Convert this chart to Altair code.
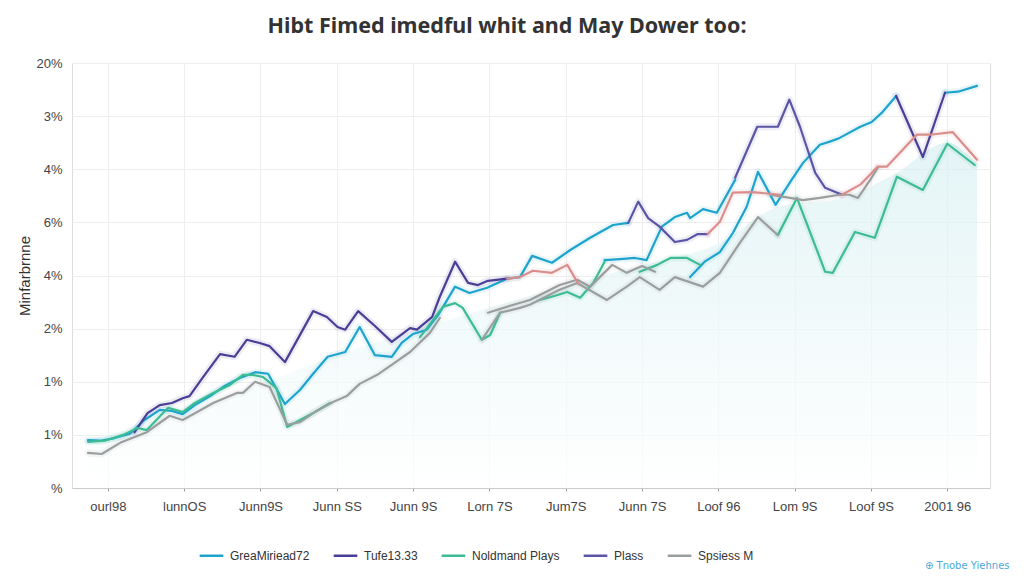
import altair as alt
import pandas as pd

TITLE = "Hibt Fimed imedful whit and May Dower too:"
Y_TITLE = "Minfarbrnne"
X_LABELS = ["ourl98", "lunnOS", "Junn9S", "Junn SS", "Junn 9S", "Lorn 7S",
            "Jum7S", "Junn 7S", "Loof 96", "Lom 9S", "Loof 9S", "2001 96"]
Y_LABELS = ["%", "1%", "1%", "2%", "4%", "6%", "4%", "3%", "20%"]
WATERMARK = "⊕ Tnobe Yiehnes"

SERIES = ["GreaMiriead72", "Tufe13.33", "Noldmand Plays", "Plass", "Spsiess M"]
COLORS = ["#1ea3cc", "#4a3f96", "#3dbb94", "#5b55a6", "#9a9e9e"]
EXTRA_COLOR = "#d98e8c"

# --- series values (t = period index, y = grid units) ---
cyan_1 = [(-0.26, 0.90), (-0.10, 0.89), (0.09, 0.94), (0.29, 1.02), (0.48, 1.28), (0.68, 1.47),
          (0.84, 1.45), (0.98, 1.39), (1.14, 1.56), (1.34, 1.73), (1.53, 1.92), (1.73, 2.07),
          (1.93, 2.18), (2.10, 2.15), (2.32, 1.58), (2.52, 1.85), (2.69, 2.15), (2.88, 2.47),
          (3.11, 2.56), (3.30, 3.03), (3.50, 2.50), (3.72, 2.47), (3.85, 2.73), (4.00, 2.90),
          (4.18, 2.98), (4.33, 3.26), (4.55, 3.79), (4.74, 3.67), (4.97, 3.77), (5.23, 3.94),
          (5.40, 3.97), (5.56, 4.37), (5.82, 4.24), (6.06, 4.48), (6.32, 4.71), (6.62, 4.95),
          (6.82, 4.99)]
cyan_2 = [(6.51, 4.29), (6.71, 4.31), (6.91, 4.33), (7.06, 4.29), (7.26, 4.92), (7.43, 5.10),
          (7.59, 5.18), (7.63, 5.08), (7.80, 5.25), (7.98, 5.18), (8.22, 5.80)]
cyan_3 = [(7.63, 3.97), (7.82, 4.26), (8.02, 4.44), (8.19, 4.80), (8.37, 5.29), (8.52, 5.95),
          (8.75, 5.33), (8.96, 5.80), (9.11, 6.12), (9.33, 6.46), (9.46, 6.52), (9.59, 6.59),
          (9.86, 6.80), (10.01, 6.89), (10.14, 7.06), (10.33, 7.38)]
cyan_4 = [(10.97, 7.44), (11.14, 7.46), (11.39, 7.57)]

tufe_1 = [(0.35, 1.05), (0.52, 1.41), (0.68, 1.56), (0.84, 1.60), (0.98, 1.69), (1.07, 1.73),
          (1.25, 2.09), (1.47, 2.52), (1.66, 2.47), (1.82, 2.79), (1.99, 2.73), (2.12, 2.67),
          (2.32, 2.37), (2.69, 3.33), (2.87, 3.22), (3.01, 3.03), (3.11, 2.98), (3.28, 3.33),
          (3.50, 3.05), (3.72, 2.75), (3.96, 3.01), (4.05, 2.98), (4.25, 3.22), (4.35, 3.60),
          (4.55, 4.26), (4.72, 3.86), (4.85, 3.82), (4.98, 3.90), (5.23, 3.94)]
tufe_2 = [(10.33, 7.38), (10.68, 6.23), (10.97, 7.44)]

plass_1 = [(6.82, 4.99), (6.95, 5.39), (7.08, 5.08), (7.23, 4.92), (7.43, 4.63), (7.59, 4.67),
           (7.73, 4.78), (7.86, 4.78)]
plass_2 = [(8.22, 5.84), (8.51, 6.80), (8.78, 6.80), (8.93, 7.31), (9.07, 6.80), (9.27, 5.93),
           (9.40, 5.65), (9.62, 5.52)]

green_1 = [(-0.26, 0.87), (-0.04, 0.89), (0.20, 1.00), (0.39, 1.13), (0.51, 1.09), (0.79, 1.51),
           (0.98, 1.43), (1.14, 1.60), (1.38, 1.79), (1.60, 1.94), (1.77, 2.13), (1.90, 2.13),
           (2.03, 2.09), (2.21, 1.88), (2.35, 1.15), (2.69, 1.41), (2.91, 1.60)]
green_2 = [(4.09, 2.84), (4.39, 3.41), (4.55, 3.48), (4.65, 3.39), (4.90, 2.79), (5.01, 2.88),
           (5.14, 3.30)]
green_3 = [(5.66, 3.54), (5.86, 3.62), (6.02, 3.69), (6.19, 3.58), (6.36, 3.86), (6.51, 4.26)]
green_4 = [(6.97, 4.07), (7.20, 4.20), (7.37, 4.33), (7.59, 4.33), (7.76, 4.20)]
green_5 = [(8.78, 4.76), (9.03, 5.46), (9.40, 4.07), (9.50, 4.05), (9.79, 4.82), (10.05, 4.71),
           (10.34, 5.86), (10.68, 5.61), (11.00, 6.48), (11.36, 6.08)]

gray_1 = [(-0.26, 0.66), (-0.08, 0.64), (0.16, 0.85), (0.51, 1.05), (0.81, 1.36), (0.98, 1.28),
          (1.17, 1.43), (1.38, 1.60), (1.69, 1.79), (1.77, 1.79), (1.93, 2.00), (2.12, 1.90),
          (2.35, 1.19), (2.52, 1.24), (2.71, 1.43), (2.95, 1.62), (3.13, 1.73), (3.30, 1.96),
          (3.53, 2.13), (3.70, 2.30), (3.96, 2.56), (4.22, 2.92), (4.35, 3.20)]
gray_2 = [(4.90, 2.79), (5.14, 3.30), (5.40, 3.39), (5.53, 3.45), (5.92, 3.73), (6.15, 3.86),
          (6.54, 3.54), (6.80, 3.79), (6.97, 3.97), (7.23, 3.73), (7.43, 3.97), (7.80, 3.79),
          (8.02, 4.05), (8.28, 4.61), (8.52, 5.10), (8.78, 4.76)]
gray_3 = [(4.98, 3.30), (5.27, 3.43), (5.53, 3.54), (5.92, 3.82), (6.15, 3.92), (6.32, 3.79),
          (6.61, 4.20), (6.80, 4.05), (7.00, 4.18), (7.17, 4.07)]
gray_4 = [(8.68, 5.52), (8.94, 5.46), (9.11, 5.42), (9.33, 5.46), (9.59, 5.52), (9.72, 5.52),
          (9.83, 5.46), (9.99, 5.80), (10.09, 6.03)]

salmon_1 = [(5.23, 3.94), (5.40, 3.97), (5.57, 4.09), (5.82, 4.05), (6.02, 4.20), (6.16, 3.86)]
salmon_2 = [(7.86, 4.78), (8.02, 5.01), (8.19, 5.56), (8.45, 5.57), (8.81, 5.52)]
salmon_3 = [(9.62, 5.52), (9.86, 5.71), (10.09, 6.05), (10.21, 6.05), (10.60, 6.65),
            (10.77, 6.65), (11.07, 6.70), (11.39, 6.18)]

area_top = [(-0.26, 0.90), (1.0, 1.45), (2.0, 1.95), (3.0, 2.5), (4.0, 2.95), (5.0, 3.4),
            (6.0, 3.8), (7.0, 4.2), (8.0, 4.6), (8.8, 5.3), (9.6, 5.45), (10.3, 5.9),
            (11.0, 6.5), (11.39, 6.1)]

PIECES = {
    "GreaMiriead72": [cyan_1, cyan_2, cyan_3, cyan_4],
    "Tufe13.33": [tufe_1, tufe_2],
    "Noldmand Plays": [green_1, green_2, green_3, green_4, green_5],
    "Plass": [plass_1, plass_2],
    "Spsiess M": [gray_1, gray_2, gray_3, gray_4],
}
EXTRA = [salmon_1, salmon_2, salmon_3]

rows = []
for name, plist in PIECES.items():
    for k, pts in enumerate(plist):
        for t, y in pts:
            rows.append({"series": name, "piece": f"{name}-{k}", "t": t, "y": y})
df = pd.DataFrame(rows)

extra_rows = []
for k, pts in enumerate(EXTRA):
    for t, y in pts:
        extra_rows.append({"piece": f"extra-{k}", "t": t, "y": y})
edf = pd.DataFrame(extra_rows)

adf = pd.DataFrame([{"t": t, "y": y} for t, y in area_top])

x_expr = "[" + ",".join(f"'{s}'" for s in X_LABELS) + "][datum.value]"
y_expr = "[" + ",".join(f"'{s}'" for s in Y_LABELS) + "][datum.value]"

x_enc = alt.X("t:Q",
              scale=alt.Scale(domain=[-0.47, 11.56], nice=False, zero=False),
              axis=alt.Axis(values=list(range(12)), labelExpr=x_expr, title=None,
                            grid=True, gridColor="#eeeeee", domainColor="#cccccc",
                            tickColor="#999999", tickSize=3, labelFontSize=13,
                            labelColor="#444444", labelPadding=9,
                            labelFont="Liberation Sans"))
y_enc = alt.Y("y:Q",
              scale=alt.Scale(domain=[0, 8], nice=False, zero=True),
              axis=alt.Axis(values=list(range(9)), labelExpr=y_expr, title=Y_TITLE,
                            grid=True, gridColor="#eeeeee", domain=False, ticks=False,
                            labelPadding=10, labelFontSize=13, labelColor="#444444",
                            labelFont="Liberation Sans",
                            titleFontSize=15, titleFontWeight="normal", titleColor="#333333",
                            titleFont="Liberation Sans", titlePadding=3))

color_enc = alt.Color("series:N",
                      scale=alt.Scale(domain=SERIES, range=COLORS),
                      legend=alt.Legend(orient="none", legendX=126, legendY=479,
                                        direction="horizontal", title=None,
                                        symbolType="stroke", symbolSize=560,
                                        symbolStrokeWidth=2.5, symbolOpacity=1,
                                        labelFontSize=12,
                                        labelColor="#333333", labelFont="Liberation Sans",
                                        columnPadding=18, labelOffset=5, padding=0))

area = alt.Chart(adf).mark_area(
    interpolate="monotone",
    color=alt.Gradient(gradient="linear",
                       stops=[alt.GradientStop(color="#ffffff", offset=0),
                              alt.GradientStop(color="#d8f0f2", offset=1)],
                       x1=1, x2=1, y1=1, y2=0),
    opacity=0.7,
).encode(x=x_enc, y=y_enc)

glow = alt.Chart(df).mark_line(strokeWidth=7, opacity=0.1, strokeCap="round",
                               strokeJoin="round").encode(
    x=x_enc, y=y_enc, color=color_enc, detail="piece:N")

lines = alt.Chart(df).mark_line(strokeWidth=2.2, strokeCap="round",
                                strokeJoin="round").encode(
    x=x_enc, y=y_enc, color=color_enc, detail="piece:N")

extra_glow = alt.Chart(edf).mark_line(strokeWidth=7, opacity=0.1, color=EXTRA_COLOR,
                                      strokeCap="round").encode(
    x=x_enc, y=y_enc, detail="piece:N")
extra = alt.Chart(edf).mark_line(strokeWidth=2.2, color=EXTRA_COLOR, strokeCap="round",
                                 strokeJoin="round").encode(
    x=x_enc, y=y_enc, detail="piece:N")

mark_df = pd.DataFrame([{"txt": WATERMARK}])
watermark = alt.Chart(mark_df).mark_text(
    align="left", baseline="middle", fontSize=10, color="#4aa8d8",
    font="DejaVu Sans").encode(x=alt.value(853), y=alt.value(503), text="txt:N")

chart = alt.layer(area, glow, extra_glow, lines, extra, watermark).properties(
    width=918, height=425,
    title=alt.TitleParams(TITLE, fontSize=21.5, font="Noto Sans", fontWeight="bold",
                          color="#333333", anchor="middle", dx=-24, offset=20),
    autosize=alt.AutoSizeParams(type="none"),
    padding={"left": 64, "top": 55, "right": 26, "bottom": 88},
).configure_view(stroke=None).configure(background="#ffffff")

chart.save("out.html", embed_options={"renderer": "svg", "actions": False})
